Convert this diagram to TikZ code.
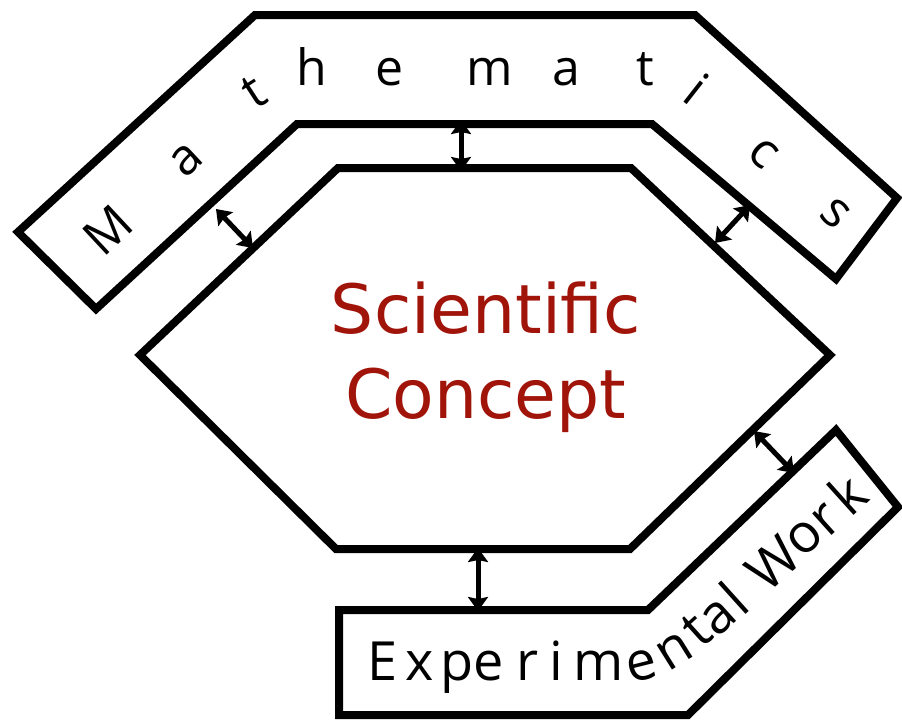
\documentclass[tikz,border=0pt]{standalone}
\usepackage{fontspec}
\setmainfont{DejaVu Sans}
\newfontfamily\bandfont{Open Sans}
\usetikzlibrary{arrows.meta}
\definecolor{conceptred}{RGB}{160,20,10}

\begin{document}
\begin{tikzpicture}[x=1pt,y=-1pt,
    band/.style={line width=8pt,line join=miter},
    link/.style={line width=5pt,{Stealth[length=14pt,width=20pt,inset=2pt]}-{Stealth[length=14pt,width=20pt,inset=2pt]}},
    mathletter/.style={inner sep=0pt,anchor=base,font=\bandfont\fontsize{50}{50}\selectfont},
    expletter/.style={inner sep=0pt,anchor=base,font=\bandfont\fontsize{54}{54}\selectfont}]
  \useasboundingbox (0,0) rectangle (902,721);
  % Mathematics band
  \draw[band] (18,232) -- (255,15) -- (695,15) -- (897,198) -- (836,279)
    -- (652,124) -- (297,124) -- (96,309) -- cycle;
  % Central hexagon
  \draw[band] (140,355) -- (338,168) -- (631,168) -- (830,355) -- (630,549)
    -- (336,549) -- cycle;
  % Experimental work band
  \draw[band] (339,610) -- (648,610) -- (836,430) -- (898,507) -- (688,715)
    -- (339,715) -- cycle;
  \node[font=\fontsize{68}{85}\selectfont,text=conceptred,align=center,inner sep=0pt]
    (concept) at (486,357) {Scientific\\Concept};
  % Letters of the two bands
  \foreach \c/\x/\y/\r [count=\k] in {M/120/243/43, a/196/170/43, t/263/106/33,
      h/312/85/0, e/390/85/0, m/490/85/0, a/566/85/0, t/645/85/0,
      i/685/103/-38, c/754/163/-42, s/826/223/-42}
    \node[mathletter,rotate=\r] (math\k) at (\x,\y) {\c};
  \foreach \c/\x/\y/\r [count=\k] in {E/383/680/0, x/420/680/0, p/457/680/0,
      e/489/680/0, r/528/680/0, i/556/680/0, m/599/680/0, e/645/680/14,
      n/683/664/32, t/709/643/42, a/729/628/42, l/748/613/42, W/786/578/42,
      o/815/549/42, r/837/531/42, k/861/509/42}
    \node[expletter,rotate=\r] (exp\k) at (\x,\y) {\c};
  % Links between the bands and the hexagon
  \coordinate (mtop) at (461,120);  \coordinate (htop) at (461,171);
  \coordinate (mleft) at (216,209); \coordinate (hleft) at (253,248);
  \coordinate (mright) at (750,205); \coordinate (hright) at (715,243);
  \coordinate (hbot) at (478,548);  \coordinate (ebot) at (478,611);
  \coordinate (hdiag) at (754,431); \coordinate (ediag) at (794,473);
  \draw[link] (mtop) -- (htop);
  \draw[link] (mleft) -- (hleft);
  \draw[link] (mright) -- (hright);
  \draw[link] (hbot) -- (ebot);
  \draw[link] (hdiag) -- (ediag);
\end{tikzpicture}
\end{document}
